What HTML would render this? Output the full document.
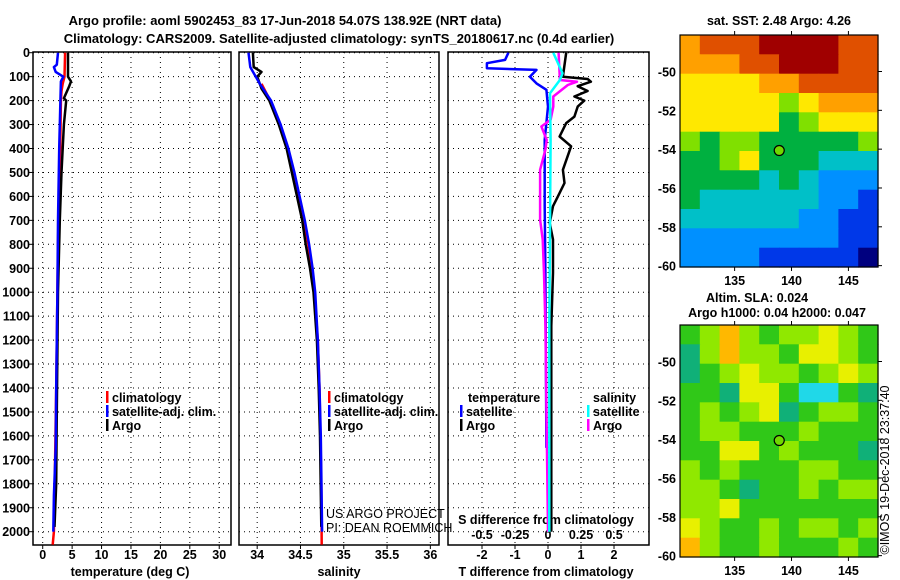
<!DOCTYPE html>
<html><head><meta charset="utf-8"><style>
html,body{margin:0;padding:0;background:#fff;}
svg{display:block;font-family:"Liberation Sans",Arial,sans-serif;}
.b{font-weight:bold;font-size:13px;}
.t{font-weight:bold;font-size:12.5px;}
</style></head><body>
<svg id="chart" width="900" height="580" viewBox="0 0 900 580" xmlns="http://www.w3.org/2000/svg">
<text class="b" x="285" y="25" text-anchor="middle">Argo profile: aoml 5902453_83 17-Jun-2018 54.07S 138.92E (NRT data)</text>
<text class="b" x="339" y="43" text-anchor="middle">Climatology: CARS2009. Satellite-adjusted climatology: synTS_20180617.nc (0.4d earlier)</text>
</svg>
<script>
// ---------- data ----------
const depthTicks=[0,100,200,300,400,500,600,700,800,900,1000,1100,1200,1300,1400,1500,1600,1700,1800,1900,2000];
const tempTicks=[0,5,10,15,20,25,30];
const salTicks=[34,34.5,35,35.5,36];
const salTickLabels=["34","34.5","35","35.5","36"];
const tdiffTicks=[-2,-1,0,1,2];
const sdiffTicks=[-0.5,-0.25,0,0.25,0.5];
const sdiffLabels=["-0.5","-0.25","0","0.25","0.5"];
// temperature profiles [depth, value]
const tempClim=[[0,3.8],[100,3.7],[130,3.4],[160,3.2],[200,3.1],[350,3.0],[500,2.9],[560,2.8],[800,2.6],[1000,2.5],[1400,2.3],[1700,2.1],[2000,1.9],[2054,1.7]];
const tempSat=[[0,2.6],[50,2.4],[60,1.9],[80,2.2],[100,3.5],[120,3.1],[200,3.0],[400,2.8],[700,2.6],[1000,2.5],[1400,2.3],[1650,2.2],[1850,1.9],[2000,1.8]];
const tempArgo=[[0,4.3],[100,4.3],[120,4.8],[140,4.5],[190,3.6],[200,4.0],[300,3.6],[400,3.4],[500,3.2],[700,2.9],[1000,2.6],[1500,2.4],[1800,2.3],[1980,2.0]];
// salinity profiles
const salClim=[[130,34.05],[200,34.15],[300,34.26],[400,34.35],[500,34.42],[600,34.48],[700,34.54],[800,34.59],[900,34.63],[1000,34.66],[1200,34.70],[1400,34.72],[1600,34.73],[1800,34.74],[2054,34.745]];
const salSat=[[0,33.9],[60,33.92],[130,34.03],[200,34.16],[300,34.27],[400,34.36],[500,34.43],[600,34.49],[700,34.55],[800,34.60],[900,34.64],[1000,34.67],[1200,34.70],[1400,34.72],[1600,34.735],[2000,34.75]];
const salArgo=[[0,33.95],[60,33.96],[80,34.05],[100,34.0],[150,34.05],[200,34.14],[300,34.25],[400,34.34],[500,34.40],[600,34.46],[700,34.52],[800,34.56],[900,34.61],[1000,34.65],[1200,34.69],[1400,34.71],[1600,34.725],[1980,34.74]];
// differences
const tdiffSat=[[0,-1.2],[30,-1.3],[44,-1.85],[65,-1.85],[72,-0.35],[100,-0.55],[128,-0.35],[155,-0.05],[225,0],[364,-0.1],[641,-0.1],[919,-0.08],[1650,-0.05]];
const tdiffArgo=[[0,0.55],[100,0.45],[110,1.2],[121,1.3],[140,0.9],[160,1.2],[183,0.8],[200,1.1],[225,0.9],[267,0.8],[294,0.55],[350,0.35],[391,0.7],[489,0.45],[544,0.5],[600,0.3],[641,0.15],[711,0.05],[780,0.15],[919,0.15],[1141,0.1],[2000,0.1]];
const sdiffArgo=[[0,0.08],[114,0.09],[121,0.22],[135,0.15],[183,0.04],[225,0.04],[280,0.02],[308,-0.05],[364,-0.01],[405,-0.02],[489,-0.06],[697,-0.06],[780,-0.04],[919,-0.03],[1141,-0.02],[2000,0]];
const sdiffSat=[[0,0.04],[86,0.11],[114,0.09],[169,0.015],[364,0.02],[1141,0.01],[2000,0.01]];
// maps
const lonTicks=[135,140,145];
const latTicks=[-50,-52,-54,-56,-58,-60];
const argoLon=138.92, argoLat=-54.07;
const sstGrid=[
[8,9,9,9,10,10,10,10,9,9],
[8,8,8,9,9,10,10,10,9,9],
[7,7,7,7,8,8,9,9,9,9],
[7,7,7,7,7,6,7,8,8,8],
[7,7,7,7,7,5,6,7,7,7],
[6,5,6,6,5,5,5,5,5,6],
[5,5,6,7,5,5,5,4,4,4],
[5,5,5,5,4,5,4,3,3,3],
[5,4,4,4,4,4,4,3,3,2],
[4,4,4,4,4,4,3,3,2,2],
[3,3,3,3,3,3,3,3,2,2],
[3,3,3,3,2,2,2,2,2,1]];
const slaGrid=[
[5,6,8,6,5,6,6,7,6,5],
[4,6,8,6,6,5,7,7,6,5],
[4,5,6,7,6,6,5,6,7,6],
[5,5,4,7,7,5,3,3,5,4],
[5,6,5,6,7,4,5,6,6,5],
[5,6,6,5,5,5,6,5,5,5],
[5,5,7,7,5,6,5,5,5,4],
[6,5,6,5,5,5,6,6,5,5],
[6,6,5,4,5,5,6,5,6,6],
[6,6,7,5,5,5,5,5,5,5],
[7,6,5,5,6,5,6,6,5,6],
[8,6,5,5,6,5,5,5,6,5]];

const svg=document.getElementById('chart');
const NS='http://www.w3.org/2000/svg';
function mk(tag,attrs,parent){const e=document.createElementNS(NS,tag);for(const k in attrs)e.setAttribute(k,attrs[k]);(parent||svg).appendChild(e);return e;}
function txt(x,y,s,cls,anchor){const e=mk('text',{x:x,y:y,'text-anchor':anchor||'middle'});if(cls)e.setAttribute('class',cls);e.textContent=s;return e;}

const TOP=52,BOT=545;
function yD(d){return 52.7+d*0.2395;}
const panels=[
 {name:'temperature',x0:33,x1:231,v0:-1.65,v1:32.0},
 {name:'salinity',x0:239,x1:439,v0:33.79,v1:36.1},
 {name:'difference',x0:448,x1:649,v0:-3.03,v1:3.06}
];
function xS(p,v){return p.x0+(v-p.v0)/(p.v1-p.v0)*(p.x1-p.x0);}
function xSd(p,v){return xS(p,v*4);}

panels.forEach((p,i)=>{
  const g=mk('g',{});
  
  
  depthTicks.forEach(d=>{
    const l=mk('line',{x1:p.x0,x2:p.x1,y1:yD(d),y2:yD(d),stroke:'#000','stroke-width':1,'stroke-dasharray':'1 4'},g);
    
    
    if(i===0){const t=txt(30,yD(d)+4.5,String(d),'t','end');}
    if(i===0){mk('line',{x1:p.x0,x2:p.x0-4,y1:yD(d),y2:yD(d),stroke:'#000'},g);}
  });
  let ticks=i===0?tempTicks:i===1?salTicks:tdiffTicks;
  ticks.forEach((v,k)=>{
    const x=xS(p,v);
    const l=mk('line',{x1:x,x2:x,y1:TOP,y2:BOT,stroke:'#000','stroke-dasharray':'1 4'},g);
    
    
    mk('line',{x1:x,x2:x,y1:BOT,y2:BOT+4,stroke:'#000'},g);
    const lab=i===1?salTickLabels[k]:String(v);
    const t=txt(x,559,lab,'t');
    
    
  });
  const f=mk('rect',{x:p.x0,y:TOP,width:p.x1-p.x0,height:BOT-TOP,fill:'none',stroke:'#000','stroke-width':1.5},g);
  
  
});
// x-axis titles
let at=txt(130,576,'temperature (deg C)','t');


at=txt(339,576,'salinity','t');


at=txt(546,576,'T difference from climatology','t');


at=txt(546,524,'S difference from climatology','t');


sdiffTicks.forEach((v,k)=>{
  const t=txt(xSd(panels[2],v),539,sdiffLabels[k],'t');
  
  
});

function series(p,data,color,name,fx){
  const pts=data.map(d=>(fx?fx(p,d[1]):xS(p,d[1])).toFixed(1)+','+yD(d[0]).toFixed(1)).join(' ');
  const e=mk('polyline',{points:pts,fill:'none',stroke:color,'stroke-width':2.5,'stroke-linejoin':'round'});
  
  
}
const P=panels;
series(P[0],tempClim,'#ff0000','temperature-climatology-line');
series(P[0],tempArgo,'#000000','temperature-argo-line');
series(P[0],tempSat,'#0000ff','temperature-satellite-line');
series(P[1],salClim,'#ff0000','salinity-climatology-line');
series(P[1],salArgo,'#000000','salinity-argo-line');
series(P[1],salSat,'#0000ff','salinity-satellite-line');
series(P[2],tdiffSat,'#0000ff','t-diff-satellite-line');
series(P[2],sdiffArgo,'#ff00ff','s-diff-argo-line',xSd);
series(P[2],tdiffArgo,'#000000','t-diff-argo-line');
series(P[2],sdiffSat,'#00ffff','s-diff-satellite-line',xSd);

function legend(x,y,color,label,name){
  const g=mk('g',{});
  
  
  mk('rect',{x:x,y:y-11,width:2.5,height:12,fill:color},g);
  const t=txt(x+6,y,label,'t','start');g.appendChild(t);
}
legend(106,402,'#ff0000','climatology','legend-temp-climatology');
legend(106,416,'#0000ff','satellite-adj. clim.','legend-temp-satellite');
legend(106,430,'#000000','Argo','legend-temp-argo');
legend(328,402,'#ff0000','climatology','legend-sal-climatology');
legend(328,416,'#0000ff','satellite-adj. clim.','legend-sal-satellite');
legend(328,430,'#000000','Argo','legend-sal-argo');
let lt=txt(468,402,'temperature','t','start');


legend(460,416,'#0000ff','satellite','legend-tdiff-satellite');
legend(460,430,'#000000','Argo','legend-tdiff-argo');
lt=txt(593,402,'salinity','t','start');


legend(587,416,'#00ffff','satellite','legend-sdiff-satellite');
legend(587,430,'#ff00ff','Argo','legend-sdiff-argo');
let c=txt(326,518,'US ARGO PROJECT','','start');
c.setAttribute('font-size','12.5');


c=txt(326,532,'PI: DEAN ROEMMICH','','start');
c.setAttribute('font-size','12.5');



// ---------- maps ----------
const sstPal={1:'#00007f',2:'#0038e8',3:'#0090ff',4:'#00c0c8',5:'#00b040',6:'#80e000',7:'#ffe800',8:'#ffa000',9:'#e05000',10:'#a00000'};
const slaPal={3:'#20d8e8',4:'#10b078',5:'#30c818',6:'#90e800',7:'#e8f000',8:'#ffb800'};
const LON0=130.2,LON1=147.6;
function mapAxes(y0,y1,latTop,latBot){
  return {x0:680,x1:878,y0:y0,y1:y1,
    lx:v=>680+(v-LON0)/(LON1-LON0)*198,
    ly:v=>y0+(latTop-v)/(latTop-latBot)*(y1-y0)};
}
function drawMap(m,grid,pal,name,ticksY){
  const g=mk('g',{});
  
  
  const rows=grid.length,cols=grid[0].length;
  const cw=(m.x1-m.x0)/cols,rh=(m.y1-m.y0)/rows;
  grid.forEach((row,r)=>row.forEach((v,cI)=>{
    const cell=mk('rect',{x:(m.x0+cI*cw).toFixed(1),y:(m.y0+r*rh).toFixed(1),width:(cw+0.6).toFixed(1),height:(rh+0.6).toFixed(1),fill:pal[v]},g);
    
    
  }));
  const fr=mk('rect',{x:m.x0,y:m.y0,width:m.x1-m.x0,height:m.y1-m.y0,fill:'none',stroke:'#000','stroke-width':1.2},g);
  
  
  lonTicks.forEach(v=>{
    const x=m.lx(v);
    mk('line',{x1:x,x2:x,y1:m.y0,y2:m.y0-4,stroke:'#000'},g);
    mk('line',{x1:x,x2:x,y1:m.y1,y2:m.y1+4,stroke:'#000'},g);
    const t=txt(x,m.y1+18,String(v),'t');
    t.setAttribute('font-size','14');
    
    
  });
  latTicks.forEach(v=>{
    const y=m.ly(v);
    mk('line',{x1:m.x1,x2:m.x1+4,y1:y,y2:y,stroke:'#000'},g);
    const t=txt(676,y+5,String(v),'t','end');
    t.setAttribute('font-size','14');
    
    
  });
  const dot=mk('circle',{cx:m.lx(argoLon),cy:m.ly(argoLat),r:5,fill:'#70d800',stroke:'#000','stroke-width':1.2},g);
  
  
}
const m1=mapAxes(35,267,-48.12,-60.07);
drawMap(m1,sstGrid,sstPal,'sst-map');
const m2=mapAxes(325,557,-48.12,-60.07);
drawMap(m2,slaGrid,slaPal,'sla-map');
let mt=txt(779,25,'sat. SST: 2.48 Argo: 4.26','t');


mt=txt(757,302,'Altim. SLA: 0.024','t');


mt=txt(777,317,'Argo h1000: 0.04 h2000: 0.047','t');


const im=txt(0,0,'©IMOS 19-Dec-2018 23:37:40','','middle');
im.setAttribute('font-size','12.5');
im.setAttribute('transform','translate(889,470) rotate(-90)');


</script>
</body></html>
